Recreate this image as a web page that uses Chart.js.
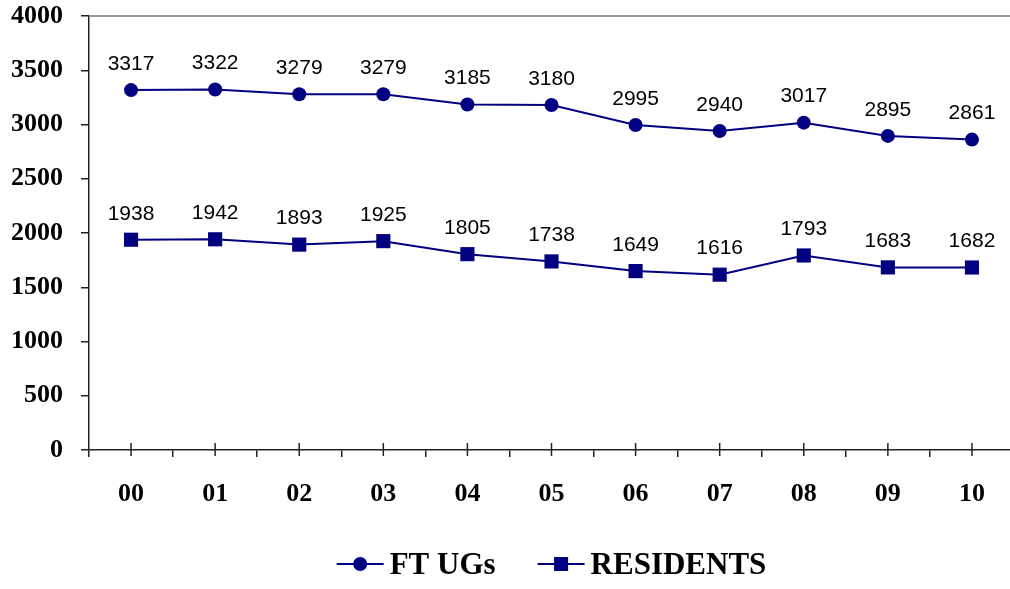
<!DOCTYPE html>
<html>
<head>
<meta charset="utf-8">
<script src="https://cdn.jsdelivr.net/npm/chart.js@4/dist/chart.umd.min.js"></script>
<style>
  html, body { margin: 0; padding: 0; background: #fff; overflow: hidden; }
  canvas { display: block; }
</style>
</head>
<body>
<canvas id="chart" width="1024" height="589"></canvas>
<script>
const years = ['00', '01', '02', '03', '04', '05', '06', '07', '08', '09', '10'];
const ftUgs = [3317, 3322, 3279, 3279, 3185, 3180, 2995, 2940, 3017, 2895, 2861];
const residents = [1938, 1942, 1893, 1925, 1805, 1738, 1649, 1616, 1793, 1683, 1682];
const yTicks = [0, 500, 1000, 1500, 2000, 2500, 3000, 3500, 4000];

const NAVY = '#000080';
const AXIS = '#222';
const serifBold = size => ({ family: '"Liberation Serif", "DejaVu Serif", serif', size, weight: 'bold' });

// value labels above each point
const valueLabels = {
  id: 'valueLabels',
  afterDatasetsDraw: chart => {
    const ctx = chart.ctx;
    ctx.save();
    ctx.font = '21px "Liberation Sans", Arial, sans-serif';
    ctx.fillStyle = '#000';
    ctx.textAlign = 'center';
    ctx.textBaseline = 'middle';
    chart.data.datasets.forEach((ds, i) => {
      chart.getDatasetMeta(i).data.forEach((pt, j) => {
        ctx.fillText(String(ds.data[j]), pt.x, pt.y - 26);
      });
    });
    ctx.restore();
  }
};

// grey top frame line + crossing ticks at the categories
const frame = {
  id: 'frame',
  afterDraw: chart => {
    const ctx = chart.ctx;
    const area = chart.chartArea;
    const x = chart.scales.x;
    ctx.save();
    ctx.strokeStyle = '#999';
    ctx.lineWidth = 2;
    ctx.beginPath();
    ctx.moveTo(area.left, area.top);
    ctx.lineTo(area.right, area.top);
    ctx.stroke();

    ctx.strokeStyle = AXIS;
    ctx.lineWidth = 1.5;
    years.forEach((_, i) => {
      const px = x.getPixelForValue(i);
      ctx.beginPath();
      ctx.moveTo(px, area.bottom - 7);
      ctx.lineTo(px, area.bottom + 6);
      ctx.stroke();
    });
    ctx.restore();
  }
};

// line + marker legend under the plot
const lineLegend = {
  id: 'lineLegend',
  afterDraw: chart => {
    const ctx = chart.ctx;
    const area = chart.chartArea;
    const y = 564;
    const lineLen = 47;
    const textGap = 6;
    const itemGap = 42;
    ctx.save();
    ctx.font = 'bold 31px "Liberation Serif", "DejaVu Serif", serif';
    ctx.textBaseline = 'middle';
    const items = chart.data.datasets.map(ds => ({
      ds,
      w: lineLen + textGap + ctx.measureText(ds.label).width
    }));
    const total = items.reduce((s, it) => s + it.w, 0) + itemGap * (items.length - 1);
    let cx = (area.left + area.right) / 2 - total / 2;
    items.forEach(({ ds, w }) => {
      ctx.strokeStyle = NAVY;
      ctx.lineWidth = 2;
      ctx.beginPath();
      ctx.moveTo(cx, y);
      ctx.lineTo(cx + lineLen, y);
      ctx.stroke();
      ctx.fillStyle = NAVY;
      const mx = cx + lineLen / 2;
      if (ds.pointStyle === 'rect') {
        ctx.fillRect(mx - 7, y - 7, 14, 14);
      } else {
        ctx.beginPath();
        ctx.arc(mx, y, 7, 0, Math.PI * 2);
        ctx.fill();
      }
      ctx.fillStyle = '#000';
      ctx.fillText(ds.label, cx + lineLen + textGap, y + 2);
      cx += w + itemGap;
    });
    ctx.restore();
  }
};

new Chart(document.getElementById('chart'), {
  type: 'line',
  data: {
    labels: years,
    datasets: [
      {
        label: 'FT UGs',
        data: ftUgs,
        borderColor: NAVY,
        backgroundColor: NAVY,
        borderWidth: 2,
        pointStyle: 'circle',
        pointRadius: 7,
        pointBorderWidth: 0
      },
      {
        label: 'RESIDENTS',
        data: residents,
        borderColor: NAVY,
        backgroundColor: NAVY,
        borderWidth: 2,
        pointStyle: 'rect',
        pointRadius: 10,
        pointBorderWidth: 0
      }
    ]
  },
  options: {
    responsive: false,
    animation: false,
    layout: { padding: { top: 16, right: 2, left: 0, bottom: 0 } },
    plugins: {
      legend: { display: false },
      tooltip: { enabled: false }
    },
    scales: {
      x: {
        offset: true,
        afterFit: scale => {
          scale.height = 139;
          scale.paddingLeft = 0;
          scale.paddingRight = 0;
        },
        grid: {
          offset: true,
          drawOnChartArea: false,
          drawTicks: true,
          tickLength: 7,
          color: AXIS,
          lineWidth: 1.5
        },
        border: { display: true, color: AXIS, width: 1.5 },
        ticks: {
          color: '#000',
          font: serifBold(26),
          padding: 22,
          maxRotation: 0
        }
      },
      y: {
        min: 0,
        max: 4000,
        afterFit: scale => {
          scale.width = 89;
          scale.paddingTop = 0;
          scale.paddingBottom = 0;
        },
        afterBuildTicks: scale => { scale.ticks = yTicks.map(v => ({ value: v })); },
        grid: {
          drawOnChartArea: false,
          drawTicks: true,
          tickLength: 8,
          color: AXIS,
          lineWidth: 1.5
        },
        border: { display: true, color: AXIS, width: 1.5 },
        ticks: {
          color: '#000',
          font: serifBold(26),
          padding: 18,
          callback: value => String(value)
        }
      }
    }
  },
  plugins: [valueLabels, frame, lineLegend]
});
</script>
</body>
</html>
